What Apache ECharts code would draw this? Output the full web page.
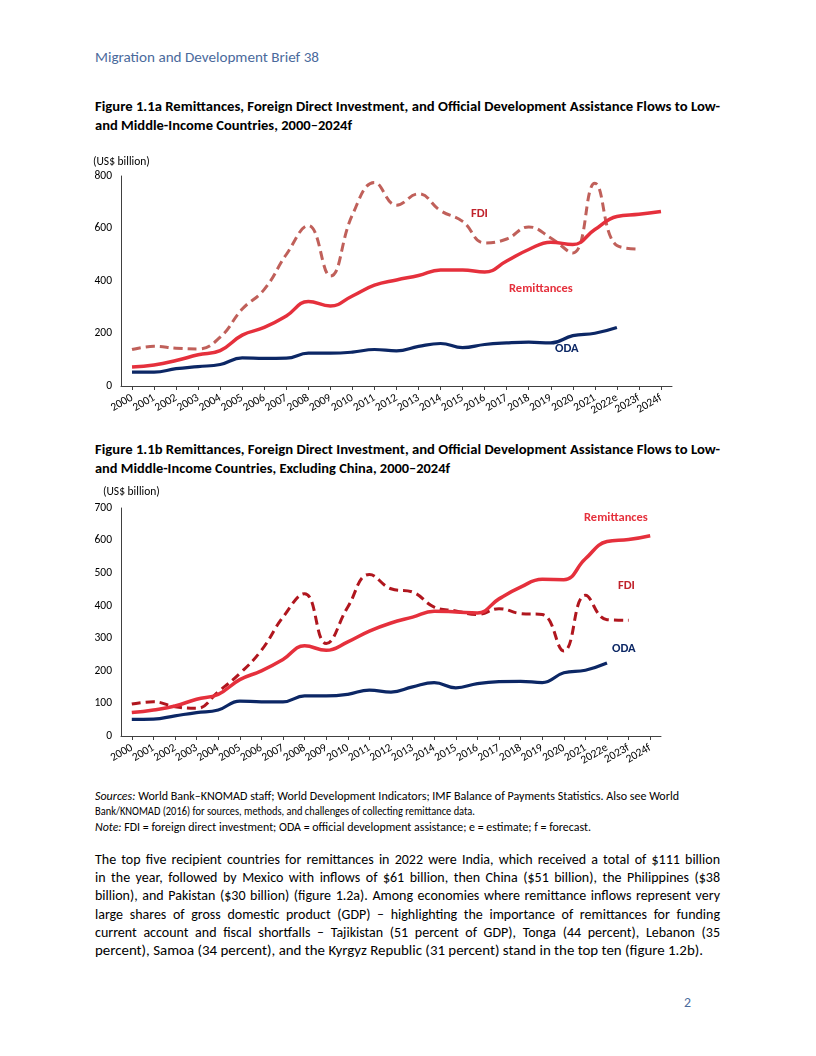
<!DOCTYPE html>
<html><head><meta charset="utf-8">
<script src="https://cdn.jsdelivr.net/npm/echarts@6/dist/echarts.min.js"></script>
<style>
html,body{margin:0;padding:0;background:#fff;}
#page{position:relative;width:816px;height:1056px;overflow:hidden;font-family:Carlito,Lato,"Noto Sans",sans-serif;color:#000;}
.ln{position:absolute;white-space:nowrap;transform-origin:0 50%;line-height:1;}
.chart{position:absolute;left:0;width:816px;height:290px;}
</style></head><body>
<div id="page">
  <div id="c1" class="chart" style="top:140px"></div>
  <div id="c2" class="chart" style="top:480px"></div>
</div>
<script>
// ---------- data ----------
const categories = ['2000','2001','2002','2003','2004','2005','2006','2007','2008','2009','2010','2011','2012','2013','2014','2015','2016','2017','2018','2019','2020','2021','2022e','2023f','2024f'];
// Figure 1.1a (all LMICs)
const remitA = [72,80,97,119,135,194,223,267,322,305,343,384,404,421,442,442,434,476,520,548,539,596,646,654,665];
const fdiA   = [139,151,144,141,186,293,368,501,611,419,652,775,689,732,668,627,545,560,606,564,507,772,535,522,null];
const odaA   = [53,53,66,74,82,107,105,106,125,125,129,139,134,151,162,146,158,164,167,164,192,201,223,null,null];
// Figure 1.1b (excluding China)
const remitB = [72,80,92,113,128,173,200,235,277,263,289,322,347,365,383,381,378,421,457,481,480,544,597,603,615];
const fdiB   = [98,105,90,85,136,192,263,365,437,284,396,496,452,442,396,384,373,391,376,373,261,432,357,355,null];
const odaB   = [51,52,62,72,80,107,105,105,123,123,128,141,135,151,164,148,161,167,168,164,194,202,224,null,null];
const yTicksA = {min:0,max:800,interval:200};
const yTicksB = {min:0,max:700,interval:100};

// ---------- page text ----------
const FONT = 'Carlito, Lato, "Noto Sans", sans-serif';
const texts = [
 {t:'Migration and Development Brief 38', x:95, y:58, w:224, fs:13.5, c:'#4a6a9c'},
 {t:'Figure 1.1a Remittances, Foreign Direct Investment, and Official Development Assistance Flows to Low-', x:95,y:107,w:625,fs:13.5,b:1},
 {t:'and Middle-Income Countries, 2000–2024f', x:95,y:126,w:257,fs:13.5,b:1},
 {t:'Figure 1.1b Remittances, Foreign Direct Investment, and Official Development Assistance Flows to Low-', x:95,y:450,w:625,fs:13.5,b:1},
 {t:'and Middle-Income Countries, Excluding China, 2000–2024f', x:95,y:469,w:355,fs:13.5,b:1},
 {h:'<i>Sources:</i> World Bank–KNOMAD staff; World Development Indicators; IMF Balance of Payments Statistics. Also see World', x:95,y:797,w:584,fs:11.5},
 {t:'Bank/KNOMAD (2016) for sources, methods, and challenges of collecting remittance data.', x:95,y:812,w:380,fs:11.5},
 {h:'<i>Note:</i> FDI = foreign direct investment; ODA = official development assistance; e = estimate; f = forecast.', x:95,y:828,w:496,fs:11.5},
 {t:'The top five recipient countries for remittances in 2022 were India, which received a total of $111 billion', x:95,y:861,w:625,fs:14,j:1},
 {t:'in the year, followed by Mexico with inflows of $61 billion, then China ($51 billion), the Philippines ($38', x:95,y:879,w:625,fs:14,j:1},
 {t:'billion), and Pakistan ($30 billion) (figure 1.2a). Among economies where remittance inflows represent very', x:95,y:897,w:625,fs:14,j:1},
 {t:'large shares of gross domestic product (GDP) – highlighting the importance of remittances for funding', x:95,y:916,w:625,fs:14,j:1},
 {t:'current account and fiscal shortfalls – Tajikistan (51 percent of GDP), Tonga (44 percent), Lebanon (35', x:95,y:934,w:625,fs:14,j:1},
 {t:'percent), Samoa (34 percent), and the Kyrgyz Republic (31 percent) stand in the top ten (figure 1.2b).', x:95,y:952,w:608,fs:14},
 {t:'2', x:684, y:1003, w:7, fs:13.5, c:'#4a6a9c'}
];
const page = document.getElementById('page');
texts.forEach(o=>{
  const d=document.createElement('div');
  d.className='ln';
  if(o.h) d.innerHTML=o.h; else d.textContent=o.t;
  d.style.fontSize=o.fs+'px';
  d.style.fontWeight=o.b?'bold':'normal';
  d.style.color=o.c||'#000';
  d.style.left=o.x+'px';
  d.style.top=(o.y-o.fs*0.55)+'px';
  page.appendChild(d);
  let w=d.getBoundingClientRect().width;
  if(o.j){
    if(w>o.w){ d.style.transform='scaleX('+(o.w/w)+')'; }
    else { d.style.width=o.w+'px'; d.style.whiteSpace='normal'; d.style.textAlign='justify'; d.style.textAlignLast='justify'; }
  } else {
    d.style.transform='scaleX('+(o.w/w)+')';
  }
});

// ---------- charts ----------
function makeChart(id, cfg){
  const ch = echarts.init(document.getElementById(id), null, {renderer:'canvas'});
  const lab = {color:'#000', fontSize:11.5, fontFamily:FONT};
  ch.setOption({
    animation:false,
    grid:{left:121, right:cfg.right, top:cfg.top, bottom:cfg.bottom, containLabel:false},
    xAxis:{type:'category', data:categories, boundaryGap:true,
      axisLine:{lineStyle:{color:'#404040',width:1}},
      axisTick:{show:true, alignWithLabel:true, length:4, lineStyle:{color:'#404040'}},
      axisLabel:Object.assign({rotate:30, margin:11, interval:0}, lab)},
    yAxis:{type:'value', min:cfg.y.min, max:cfg.y.max, interval:cfg.y.interval,
      axisLine:{show:true, lineStyle:{color:'#404040',width:1}},
      axisTick:{show:false}, splitLine:{show:false},
      axisLabel:Object.assign({margin:9}, lab)},
    series:[
      {name:'FDI', type:'line', data:cfg.fdi, smooth:0.45, symbol:'none', z:2,
       lineStyle:{color:cfg.fdiColor, width:3, type:[9,5]}},
      {name:'Remittances', type:'line', data:cfg.rem, smooth:0.45, symbol:'none', z:3,
       lineStyle:{color:'#e5303c', width:3.5}},
      {name:'ODA', type:'line', data:cfg.oda, smooth:0.45, symbol:'none', z:4,
       lineStyle:{color:'#0c2765', width:3.2}}
    ],
    graphic:cfg.labels.map(l=>({type:'text', left:l.x, top:l.y,
      style:{text:l.t, fill:l.c, font:(l.b?'bold ':'')+l.fs+'px '+FONT, textVerticalAlign:'middle'}}))
  });
}
makeChart('c1', {right:144, top:36, bottom:44, y:yTicksA, rem:remitA, fdi:fdiA, oda:odaA, fdiColor:'#c0605a',
  labels:[
    {t:'(US$ billion)', x:93, y:16, c:'#000', fs:11.5},
    {t:'FDI', x:471, y:67, c:'#c0232c', fs:12.5, b:1},
    {t:'Remittances', x:509, y:142, c:'#e5303c', fs:12.5, b:1},
    {t:'ODA', x:555, y:202, c:'#0c2765', fs:12.5, b:1}
  ]});
makeChart('c2', {right:155, top:28, bottom:34, y:yTicksB, rem:remitB, fdi:fdiB, oda:odaB, fdiColor:'#b0161e',
  labels:[
    {t:'(US$ billion)', x:103, y:6, c:'#000', fs:11.5},
    {t:'Remittances', x:584, y:31, c:'#e5303c', fs:12.5, b:1},
    {t:'FDI', x:618, y:99, c:'#c0232c', fs:12.5, b:1},
    {t:'ODA', x:612, y:162, c:'#0c2765', fs:12.5, b:1}
  ]});
</script>
</body></html>
